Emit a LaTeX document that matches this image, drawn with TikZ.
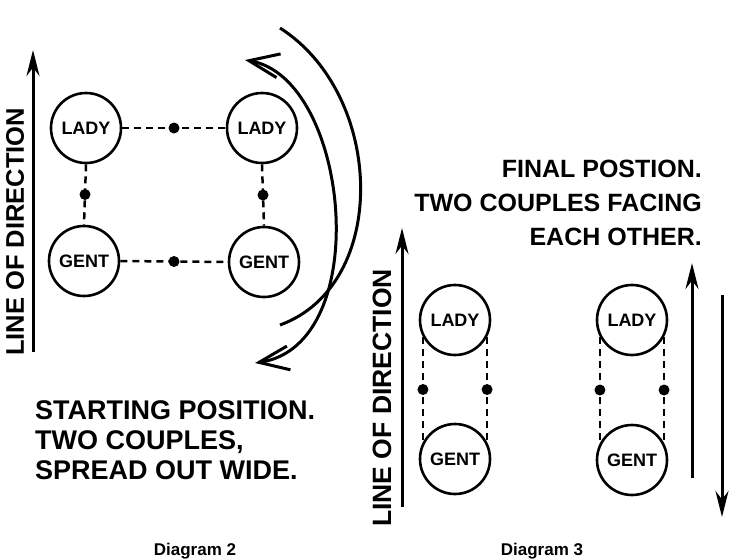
\documentclass[tikz,border=0pt]{standalone}
\usepackage{fontspec}
\setmainfont{Liberation Sans}
\usetikzlibrary{arrows.meta}

\tikzset{
  dancer/.style={draw, circle, line width=2.6pt, minimum size=70pt, inner sep=0pt,
    font=\fontsize{18}{18}\selectfont\bfseries},
  link/.style={line width=2.5pt, dash pattern=on 7pt off 5pt},
  dot/.style={circle, fill, inner sep=0pt, minimum size=11pt},
  lod/.style={line width=3pt, -{Stealth[length=26pt,width=13pt]}},
  swing/.style={line width=3pt},
  hand/.style={inner sep=0pt, font=\fontsize{27}{30}\selectfont\bfseries},
  caption/.style={font=\fontsize{17}{17}\selectfont\bfseries}
}

\begin{document}
\begin{tikzpicture}[x=1pt, y=-1pt]
\useasboundingbox (0,0) rectangle (729,560);

\node[dancer] (ladyA) at (86,128) {LADY};
\node[dancer] (ladyB) at (262,128) {LADY};
\node[dancer] (gentA) at (84,261) {GENT};
\node[dancer] (gentB) at (264,262) {GENT};

\draw[link] (ladyA.east) -- node[dot] {} (ladyB.west);
\draw[link] (gentA.east) -- node[dot] {} (gentB.west);
\draw[link] (ladyA.south) -- node[dot] {} (gentA.north);
\draw[link] (ladyB.south) -- node[dot] {} (gentB.north);

\coordinate (lodA-bot) at (33,352);
\coordinate (lodA-top) at (33,50);
\draw[lod] (lodA-bot) -- (lodA-top);
\node[hand, rotate=90, font=\fontsize{25.5}{26}\selectfont\bfseries] (lodtxtA) at (15,232) {LINE OF DIRECTION};

\coordinate (outer-top) at (280,28);
\coordinate (outer-bot) at (280,325);
\draw[swing] (outer-top) .. controls (385,95) and (390,285) .. (outer-bot);
\coordinate (inner-top) at (245,60);
\coordinate (inner-bot) at (255,363);
\draw[swing, {Straight Barb[length=30pt,width=24pt]}-{Straight Barb[length=30pt,width=24pt]}]
  (inner-top) .. controls (350,78) and (375,345) .. (inner-bot);

\node[hand, align=left, anchor=north west] (startpos) at (35,400)
  {STARTING POSITION.\\TWO COUPLES,\\SPREAD OUT WIDE.};

\node[caption, anchor=base] (capA) at (195,555) {Diagram 2};

\node[dancer] (ladyC) at (455,320) {LADY};
\node[dancer] (gentC) at (455,459) {GENT};
\node[dancer] (ladyD) at (632,320) {LADY};
\node[dancer] (gentD) at (632,460) {GENT};

\draw[link] (ladyC.208) -- node[dot] {} (gentC.152);
\draw[link] (ladyC.332) -- node[dot] {} (gentC.28);
\draw[link] (ladyD.208) -- node[dot] {} (gentD.152);
\draw[link] (ladyD.332) -- node[dot] {} (gentD.28);

\coordinate (lodB-bot) at (402,507);
\coordinate (lodB-top) at (402,228);
\draw[lod] (lodB-bot) -- (lodB-top);
\node[hand, rotate=90, font=\fontsize{26.5}{27}\selectfont\bfseries] (lodtxtB) at (382,398) {LINE OF DIRECTION};

\coordinate (up-bot) at (692,478);
\coordinate (up-top) at (692,263);
\draw[lod] (up-bot) -- (up-top);
\coordinate (down-top) at (722,295);
\coordinate (down-bot) at (722,517);
\draw[lod] (down-top) -- (down-bot);

\node[hand, align=right, anchor=north east, font=\fontsize{25}{34}\selectfont\bfseries] (finalpos) at (702,160)
  {FINAL POSTION.\\TWO COUPLES FACING\\EACH OTHER.};

\node[caption, anchor=base] (capB) at (542,555) {Diagram 3};
\end{tikzpicture}
\end{document}
